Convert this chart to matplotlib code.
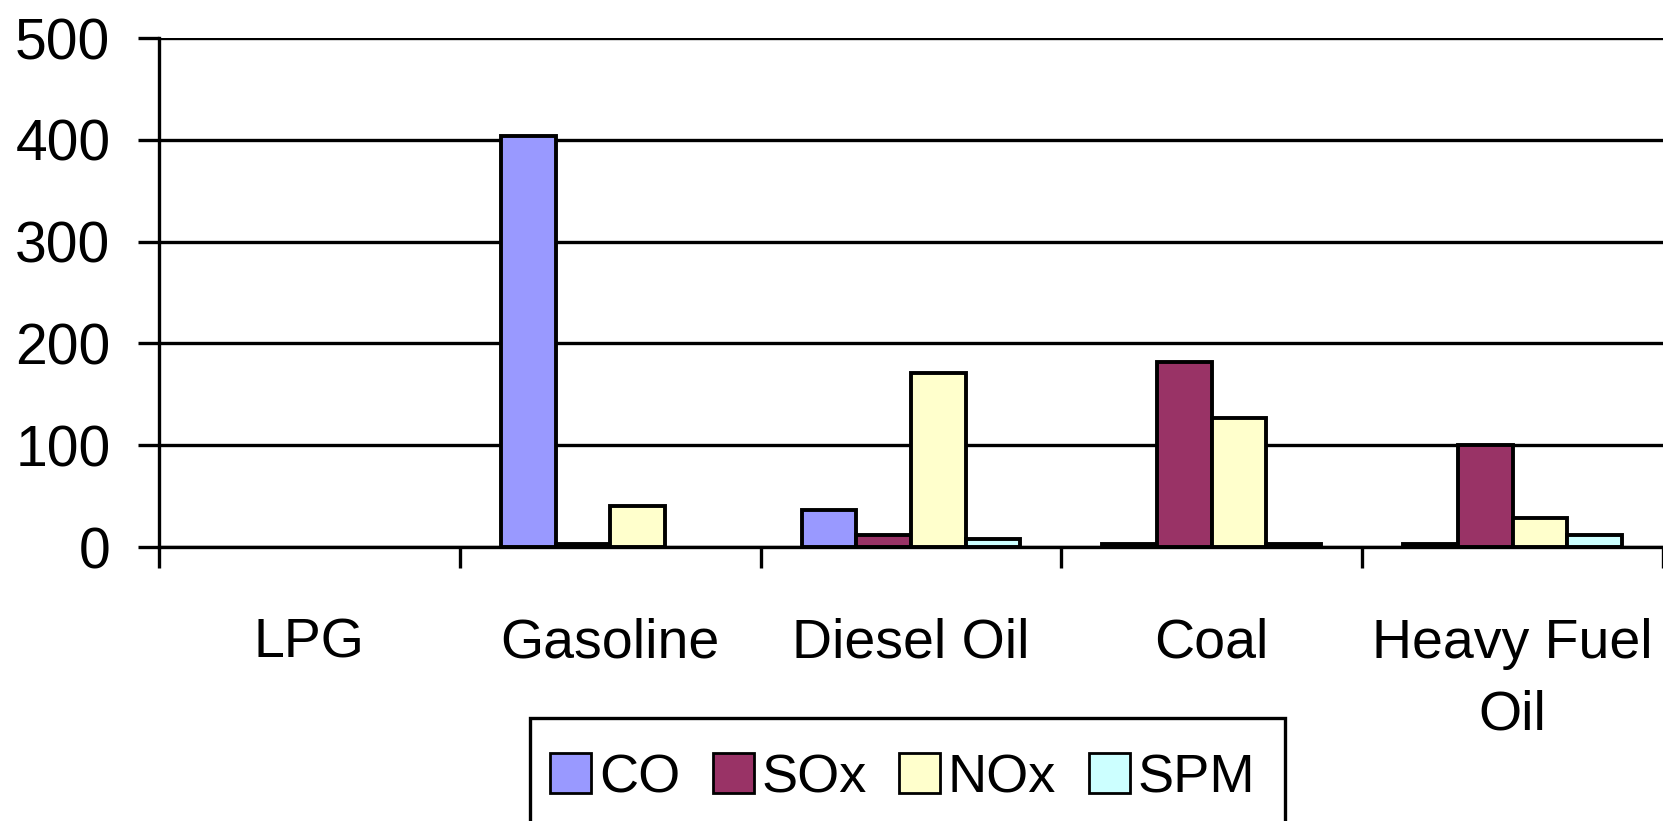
import matplotlib
matplotlib.use("Agg")
import matplotlib.pyplot as plt
from matplotlib.patches import Rectangle
import numpy as np

categories = ['LPG', 'Gasoline', 'Diesel Oil', 'Coal', 'Heavy Fuel\nOil']
series_names = ['CO', 'SOx', 'NOx', 'SPM']
co = [0, 404, 36, 3, 3]
sox = [0, 3, 12, 182, 100]
nox = [0, 40, 171, 127, 28]
spm = [0, 0, 8, 3, 12]
y_ticks = [0, 100, 200, 300, 400, 500]
colors = ['#9999FF', '#993366', '#FFFFCC', '#CCFFFF']

plt.rcParams['font.family'] = ['Liberation Sans', 'DejaVu Sans']

W, H = 1663, 821
fig = plt.figure(figsize=(W / 100, H / 100), dpi=100)
left = 159 / W
bottom = 1 - 547 / H
top = 1 - 38 / H
ax = fig.add_axes([left, bottom, 1 - left, top - bottom])

x = np.arange(len(categories))
bw = 0.1818
lw = 2.4
for i, (vals, name, c) in enumerate(zip([co, sox, nox, spm], series_names, colors)):
    bars = ax.bar(x + (i - 1.5) * bw, vals, width=bw, color=c, edgecolor='black',
                  linewidth=2.8, label=name, zorder=3)
    for b, v in zip(bars, vals):
        if v == 0:
            b.set_linewidth(0)

ax.set_ylim(0, 500)
ax.set_yticks(y_ticks)
ax.set_yticklabels([str(v) for v in y_ticks])
ax.yaxis.grid(True, color='black', linewidth=lw, zorder=1)
ax.set_axisbelow(True)

ax.set_xlim(-0.5, -0.5 + (W - 159) / 303.3)
ax.set_xticks(np.arange(-0.5, len(categories) + 0.5, 1.0))
ax.set_xticklabels([])
ax.set_xticks(x, minor=True)
ax.set_xticklabels(categories, minor=True, fontsize=40, linespacing=1.5)
ax.tick_params(axis='x', which='major', direction='out', length=15, width=lw, color='black')
ax.tick_params(axis='x', which='minor', length=0, pad=51)
ax.tick_params(axis='y', direction='out', length=15, width=lw, labelsize=41, pad=20)

for s in ['top', 'right']:
    ax.spines[s].set_visible(False)
for s in ['left', 'bottom']:
    ax.spines[s].set_linewidth(lw)
    ax.spines[s].set_color('black')
    ax.spines[s].set_zorder(4)

# legend frame (extends past the bottom edge as in the reference)
frame = Rectangle((530 / W, -0.05), (1285 - 530) / W, (1 - 718 / H) + 0.05,
                  transform=fig.transFigure, facecolor='white', edgecolor='black',
                  linewidth=lw, zorder=5)
fig.add_artist(frame)

leg = fig.legend(loc='upper left', bbox_to_anchor=(550 / W, 1 - 753 / H), ncol=4,
                 fontsize=39, frameon=False,
                 handlelength=0.76, handleheight=0.76, handletextpad=0.14,
                 columnspacing=0.6, borderpad=0, borderaxespad=0)
leg.set_zorder(6)
for p in leg.get_patches():
    p.set_edgecolor('black')
    p.set_linewidth(2.0)

fig.savefig('out.png', dpi=100)
